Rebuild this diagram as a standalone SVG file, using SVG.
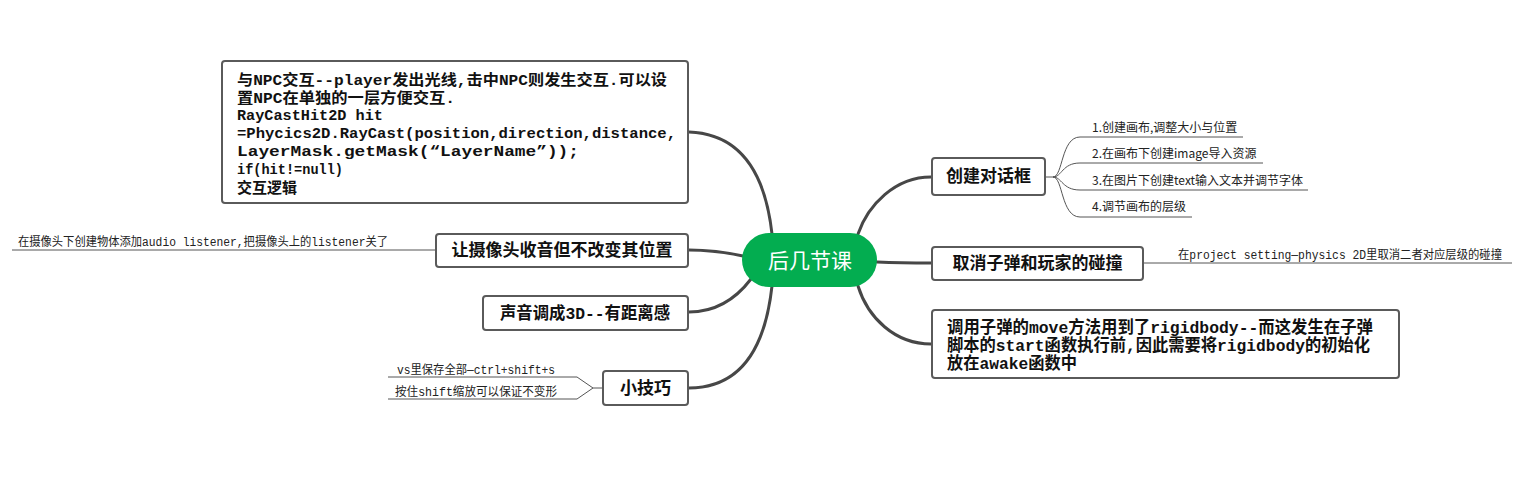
<svg xmlns="http://www.w3.org/2000/svg" width="1519" height="484" viewBox="0 0 1519 484">
<style>
.box{fill:#fff;stroke:#5a5a5a;stroke-width:2}
.main{font-family:"Liberation Mono","Noto Sans CJK SC",monospace;font-size:17px;font-weight:bold;fill:#111}
.npc{font-family:"Liberation Mono","Noto Sans CJK SC",monospace;font-size:15px;font-weight:bold;fill:#111}
.leaf{font-family:"Liberation Mono","Noto Sans CJK SC",monospace;font-size:12px;fill:#222}
.leafs{font-family:"Noto Sans CJK SC","Liberation Sans",sans-serif;font-size:12px;fill:#222}
.conn{fill:none;stroke:#474747;stroke-width:3;stroke-linecap:round}
.thin{fill:none;stroke:#555;stroke-width:1}
</style>
<rect width="1519" height="484" fill="#fff"/>
<g id="connectors">
<path class="conn" d="M772,234 C766,180 745,134 689,132"/>
<path class="conn" d="M743,256 C725,252 710,250 689,250"/>
<path class="conn" d="M751,279 C735,300 715,312 689,312"/>
<path class="conn" d="M772,286 C765,350 740,388 689,388"/>
<path class="conn" d="M858,234 C868,205 895,177 931,177"/>
<path class="conn" d="M877,262 C900,263 915,263 931,263"/>
<path class="conn" d="M858,286 C868,318 895,344 931,344"/>
<path class="thin" d="M1046,177 H1053"/>
<path class="thin" d="M1053,177 C1063,177 1061,137 1080,137 H1243"/>
<path class="thin" d="M1053,177 C1062,177 1062,163 1080,163 H1263"/>
<path class="thin" d="M1053,177 C1062,177 1062,190 1080,190 H1308"/>
<path class="thin" d="M1053,177 C1063,177 1061,217 1080,217 H1192"/>
<path class="thin" d="M1144,263 H1512"/>
<path class="thin" d="M435,250 H12"/>
<path class="thin" d="M602,388 H593 L577,377 H388"/>
<path class="thin" d="M593,388 L577,399 H388"/>
</g>
<g id="center">
<rect x="742" y="233" width="135" height="54" rx="27" fill="#03AD50"/>
<text x="810" y="268" text-anchor="middle" font-family="Noto Sans CJK SC,sans-serif" font-size="21" fill="#fff">后几节课</text>
</g>
<g id="node-npc">
<rect class="box" x="222" y="61" width="466" height="142" rx="3"/>
<text class="npc" x="237" y="85" font-size="16" textLength="430" lengthAdjust="spacingAndGlyphs">与NPC交互--player发出光线,击中NPC则发生交互.可以设</text>
<text class="npc" x="237" y="103" font-size="16" textLength="218" lengthAdjust="spacingAndGlyphs">置NPC在单独的一层方便交互.</text>
<text class="npc" x="237" y="120" textLength="146" lengthAdjust="spacingAndGlyphs">RayCastHit2D hit</text>
<text class="npc" x="237" y="138" textLength="439" lengthAdjust="spacingAndGlyphs">=Phycics2D.RayCast(position,direction,distance,</text>
<text class="npc" x="237" y="156" textLength="342" lengthAdjust="spacingAndGlyphs">LayerMask.getMask(“LayerName”));</text>
<text class="npc" x="237" y="174" textLength="106" lengthAdjust="spacingAndGlyphs">if(hit!=null)</text>
<text class="npc" x="237" y="193" font-size="16">交互逻辑</text>
</g>
<g id="node-camera">
<rect class="box" x="436" y="234" width="252" height="33" rx="3"/>
<text class="main" x="562" y="256" text-anchor="middle">让摄像头收音但不改变其位置</text>
</g>
<g id="leaf-camera">
<text class="leaf" x="18" y="246" textLength="370" lengthAdjust="spacingAndGlyphs">在摄像头下创建物体添加audio listener,把摄像头上的listener关了</text>
</g>
<g id="node-sound">
<rect class="box" x="483" y="296" width="205" height="34" rx="3"/>
<text class="main" x="500" y="319" textLength="170" lengthAdjust="spacingAndGlyphs">声音调成3D--有距离感</text>
</g>
<g id="node-tips">
<rect class="box" x="603" y="371" width="85" height="34" rx="3"/>
<text class="main" x="645.5" y="394" text-anchor="middle">小技巧</text>
</g>
<g id="leaf-tips-1">
<text class="leaf" x="397" y="374" textLength="158" lengthAdjust="spacingAndGlyphs">vs里保存全部—ctrl+shift+s</text>
</g>
<g id="leaf-tips-2">
<text class="leaf" x="395" y="396" textLength="162" lengthAdjust="spacingAndGlyphs">按住shift缩放可以保证不变形</text>
</g>
<g id="node-dialog">
<rect class="box" x="932" y="158" width="113" height="37" rx="3"/>
<text x="988.5" y="182" text-anchor="middle" font-family="Noto Sans CJK SC,sans-serif" font-size="17" font-weight="bold" fill="#111">创建对话框</text>
</g>
<g id="leaf-dialog-1"><text class="leafs" x="1092" y="132">1.创建画布,调整大小与位置</text></g>
<g id="leaf-dialog-2"><text class="leafs" x="1092" y="158">2.在画布下创建image导入资源</text></g>
<g id="leaf-dialog-3"><text class="leafs" x="1092" y="185">3.在图片下创建text输入文本并调节字体</text></g>
<g id="leaf-dialog-4"><text class="leafs" x="1092" y="211">4.调节画布的层级</text></g>
<g id="node-collision">
<rect class="box" x="932" y="247" width="211" height="33" rx="3"/>
<text class="main" x="1037.5" y="269" text-anchor="middle">取消子弹和玩家的碰撞</text>
</g>
<g id="leaf-collision">
<text class="leaf" x="1178" y="259" textLength="324" lengthAdjust="spacingAndGlyphs">在project setting—physics 2D里取消二者对应层级的碰撞</text>
</g>
<g id="node-rigidbody">
<rect class="box" x="932" y="310" width="467" height="68" rx="3"/>
<text class="main" x="947" y="333" textLength="426" lengthAdjust="spacingAndGlyphs">调用子弹的move方法用到了rigidbody--而这发生在子弹</text>
<text class="main" x="947" y="351" textLength="423" lengthAdjust="spacingAndGlyphs">脚本的start函数执行前,因此需要将rigidbody的初始化</text>
<text class="main" x="947" y="369" textLength="130" lengthAdjust="spacingAndGlyphs">放在awake函数中</text>
</g>
</svg>
